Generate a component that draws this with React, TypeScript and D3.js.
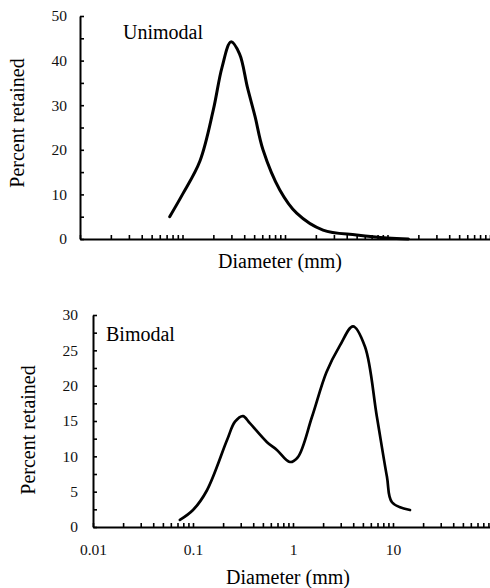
import React, { useEffect, useRef } from 'react'
import * as d3 from 'd3'

const uniDiameter = [0.075, 0.1, 0.148, 0.2, 0.243, 0.297, 0.36, 0.43, 0.51, 0.61, 0.89, 1.3, 2.35, 5, 10, 16]
const uniPercent = [5, 10, 17.5, 29, 38.5, 44.2, 41.5, 34, 27.5, 20, 11, 5.8, 2, 0.9, 0.2, 0]

const biDiameter = [0.074, 0.1, 0.138, 0.219, 0.263, 0.316, 0.37, 0.55, 0.69, 0.93, 1.12, 1.55, 2.16, 2.95, 3.98, 5.25, 6.9, 8.7, 9.77, 14.8]
const biPercent = [1, 2.4, 5.2, 12.3, 14.9, 15.7, 14.7, 12, 10.9, 9.2, 9.9, 15.6, 21.9, 25.7, 28.4, 25.5, 15.6, 7.1, 3.5, 2.4]

const decades = [0.01, 0.1, 1, 10]
const xTicks = d3.range(-2, 2).flatMap(e => d3.range(1, 10).map(m => m * Math.pow(10, e))).concat([100])

const uniYTicks = d3.range(0, 55, 5)
const biYTicks = d3.range(0, 32.5, 2.5)

const FONT = '"Liberation Serif", "Times New Roman", serif'

export default function App () {
    const ref = useRef(null)

    useEffect(() => {
        const svg = d3.select(ref.current)
        svg.selectAll('*').remove()

        const panel = (opts) => {
            const { left, right, top, bottom, yMax, yTicks, major, diam, pct, label, xLabels, labelX, labelY, xTitleY, yTitleX, yTitleY, pad, width } = opts
            const x = d3.scaleLog().domain([0.01, 100]).range([left, right])
            const y = d3.scaleLinear().domain([0, yMax]).range([bottom, top])
            const g = svg.append('g')

            const xAxis = d3.axisBottom(x)
                .tickValues(xTicks)
                .tickSizeInner(-4)
                .tickSizeOuter(0)
                .tickPadding(17)
                .tickFormat(d => (xLabels && decades.includes(+d.toPrecision(1)) && [1, 10, 100, 1000].some(k => Math.abs(d * 100 - k) < 1e-6)) ? String(d) : '')
            const xg = g.append('g').attr('transform', `translate(0,${bottom})`).call(xAxis)

            const yAxis = d3.axisLeft(y)
                .tickValues(yTicks)
                .tickSizeInner(-4)
                .tickSizeOuter(0)
                .tickPadding(pad)
                .tickFormat(d => (d % major === 0 ? String(d) : ''))
            const yg = g.append('g').attr('transform', `translate(${left},0)`).call(yAxis)

            ;[xg, yg].forEach(a => {
                a.select('.domain').attr('stroke', '#000').attr('stroke-width', 2)
                a.selectAll('.tick line').attr('stroke', '#000').attr('stroke-width', 1.6)
                a.selectAll('.tick text').attr('font-family', FONT).attr('font-size', 15.5).attr('fill', '#111')
            })

            const line = d3.line()
                .x((d, i) => x(diam[i]))
                .y(d => y(d))
                .curve(d3.curveCatmullRom.alpha(0.5))

            g.append('path')
                .attr('d', line(pct))
                .attr('fill', 'none')
                .attr('stroke', '#000')
                .attr('stroke-width', width)
                .attr('stroke-linejoin', 'round')
                .attr('stroke-linecap', 'round')

            g.append('text')
                .attr('x', labelX).attr('y', labelY)
                .attr('font-family', FONT).attr('font-size', 20)
                .text(label)

            g.append('text')
                .attr('x', (left + right) / 2 - 5).attr('y', xTitleY)
                .attr('text-anchor', 'middle')
                .attr('font-family', FONT).attr('font-size', 20)
                .text('Diameter (mm)')

            g.append('text')
                .attr('transform', `translate(${yTitleX},${yTitleY}) rotate(-90)`)
                .attr('text-anchor', 'middle')
                .attr('font-family', FONT).attr('font-size', 20)
                .text('Percent retained')
        }

        panel({
            left: 80, right: 490, top: 16, bottom: 239, yMax: 50, yTicks: uniYTicks, major: 10,
            diam: uniDiameter, pct: uniPercent, label: 'Unimodal', xLabels: false,
            labelX: 123, labelY: 39, xTitleY: 268, yTitleX: 24, yTitleY: 123, pad: 13, width: 3
        })

        panel({
            left: 93, right: 493, top: 315, bottom: 527, yMax: 30, yTicks: biYTicks, major: 5,
            diam: biDiameter, pct: biPercent, label: 'Bimodal', xLabels: true,
            labelX: 106, labelY: 341, xTitleY: 584, yTitleX: 35, yTitleY: 430, pad: 15, width: 2.7
        })
    }, [])

    return (
        <svg ref={ref} width={490} height={588}
            style={{ position: 'absolute', left: 0, top: 0, background: '#fff' }} />
    )
}
